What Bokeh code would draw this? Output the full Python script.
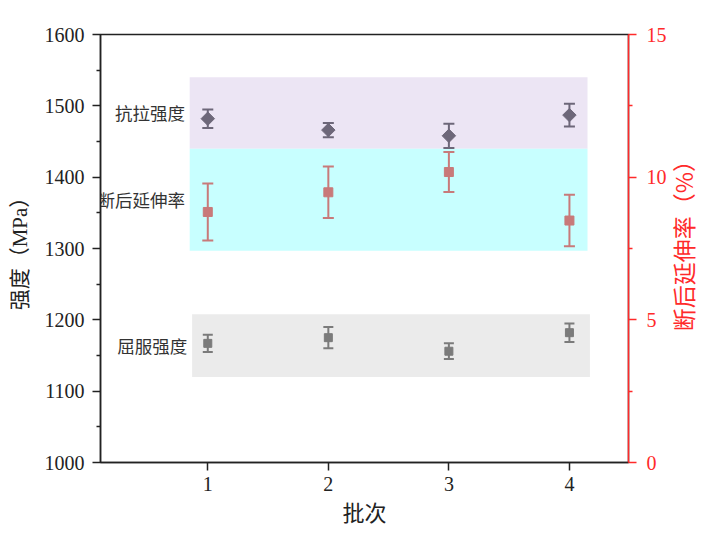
import math
from bokeh.plotting import figure
from bokeh.models import (Range1d, LinearAxis, FixedTicker, ColumnDataSource,
                          Whisker, TeeHead)
from bokeh.core.properties import value
from bokeh.embed import file_html
from bokeh.resources import INLINE

# ---------------- data ----------------
batches = [1, 2, 3, 4]
tensile = [1482, 1466, 1458, 1487]
tensile_err = [13, 10, 17, 16]
elongation = [8.78, 9.47, 10.18, 8.48]
elongation_err = [1.0, 0.9, 0.7, 0.9]
yield_strength = [1167, 1175, 1156, 1182]
yield_err = [12, 15, 11, 13]

group_names = ["抗拉强度", "断后延伸率", "屈服强度"]
x_ticks = [1, 2, 3, 4]
left_ticks = [1000, 1100, 1200, 1300, 1400, 1500, 1600]
right_ticks = [0, 5, 10, 15]

# background bands (x0, x1, y0, y1) in left-axis units
bands = [
    (0.85, 4.15, 1440, 1540, "#ece5f4"),
    (0.85, 4.15, 1297, 1440, "#c8ffff"),
    (0.87, 4.17, 1120, 1208, "#ebebeb"),
]

SERIF = "'Liberation Serif', 'Noto Sans CJK SC'"
CJK = "'Noto Sans CJK SC'"
DARK = "#222222"
RED = "#ff2a2a"

p = figure(frame_width=528, frame_height=428,
           x_range=Range1d(0.11, 4.49), y_range=Range1d(1000, 1600),
           output_backend="svg", toolbar_location=None,
           min_border_left=100, min_border_right=92,
           min_border_top=34, min_border_bottom=72)
p.extra_y_ranges = {"right": Range1d(0, 15)}
p.grid.visible = False
p.outline_line_color = DARK
p.outline_line_width = 1.5
p.background_fill_color = "white"
p.border_fill_color = "white"

# bands
for (x0, x1, y0, y1, c) in bands:
    p.quad(left=[x0], right=[x1], bottom=[y0], top=[y1],
           fill_color=c, line_color=None, level="image")

# labels for bands
label_x = [b[0] - 0.04 for b in bands]
label_y = [(b[2] + b[3]) / 2 for b in bands]
p.text(x=label_x, y=label_y, text=group_names, text_align="right",
       text_baseline="middle", text_font=value(CJK),
       text_font_size="17.5px", text_color="#333333")

# tensile
src_t = ColumnDataSource(dict(x=batches, y=tensile,
                              lo=[v - e for v, e in zip(tensile, tensile_err)],
                              hi=[v + e for v, e in zip(tensile, tensile_err)]))
c_t = "#6d6779"
p.add_layout(Whisker(source=src_t, base="x", lower="lo", upper="hi",
                     line_color=c_t, line_width=2,
                     upper_head=TeeHead(size=11, line_color=c_t, line_width=2),
                     lower_head=TeeHead(size=11, line_color=c_t, line_width=2)))
p.scatter("x", "y", source=src_t, marker="square", angle=math.pi / 4,
          size=9.5, fill_color=c_t, line_color=c_t)

# yield
src_y = ColumnDataSource(dict(x=batches, y=yield_strength,
                              lo=[v - e for v, e in zip(yield_strength, yield_err)],
                              hi=[v + e for v, e in zip(yield_strength, yield_err)]))
c_y = "#7b7b7b"
p.add_layout(Whisker(source=src_y, base="x", lower="lo", upper="hi",
                     line_color=c_y, line_width=2,
                     upper_head=TeeHead(size=10, line_color=c_y, line_width=2),
                     lower_head=TeeHead(size=10, line_color=c_y, line_width=2)))
p.scatter("x", "y", source=src_y, marker="square", size=8,
          fill_color=c_y, line_color=c_y)

# elongation (right axis)
src_e = ColumnDataSource(dict(x=batches, y=elongation,
                              lo=[v - e for v, e in zip(elongation, elongation_err)],
                              hi=[v + e for v, e in zip(elongation, elongation_err)]))
c_e = "#c87a7a"
p.add_layout(Whisker(source=src_e, base="x", lower="lo", upper="hi",
                     y_range_name="right",
                     line_color=c_e, line_width=2,
                     upper_head=TeeHead(size=11, line_color=c_e, line_width=2),
                     lower_head=TeeHead(size=11, line_color=c_e, line_width=2)))
p.scatter("x", "y", source=src_e, y_range_name="right", marker="square",
          size=9, fill_color=c_e, line_color=c_e)

# axes styling
def style_axis(ax, color):
    ax.axis_line_color = color
    ax.axis_line_width = 1.5
    ax.major_tick_line_color = color
    ax.major_tick_line_width = 1.5
    ax.minor_tick_line_color = color
    ax.minor_tick_line_width = 1.5
    ax.major_tick_in = 0
    ax.major_tick_out = 8
    ax.minor_tick_in = 0
    ax.minor_tick_out = 4
    ax.major_label_text_font = SERIF
    ax.major_label_text_font_size = "20px"
    ax.major_label_text_color = color
    ax.axis_label_text_font = SERIF
    ax.axis_label_text_font_size = "21px"
    ax.axis_label_text_font_style = "normal"
    ax.axis_label_text_color = color

xa = p.xaxis[0]
style_axis(xa, DARK)
xa.ticker = FixedTicker(ticks=x_ticks, minor_ticks=[])
xa.axis_label = "批次"
xa.axis_label_text_font_size = "22px"
xa.major_label_standoff = 6
xa.axis_label_standoff = 7

ya = p.yaxis[0]
style_axis(ya, DARK)
ya.ticker = FixedTicker(ticks=left_ticks,
                        minor_ticks=[t + 50 for t in left_ticks[:-1]])
ya.axis_label = "强度（MPa）"
ya.major_label_standoff = 8
ya.axis_label_standoff = 10

ra = LinearAxis(y_range_name="right")
style_axis(ra, RED)
ra.ticker = FixedTicker(ticks=right_ticks,
                        minor_ticks=[t + 2.5 for t in right_ticks[:-1]])
ra.major_label_standoff = 10
p.add_layout(ra, "right")

# right-axis title (reads bottom to top, like the left title);
# the rotated text starts at its anchor, so anchor it below the middle
RIGHT_TITLE_ANCHOR = 4.6
rt = LinearAxis(y_range_name="right")
rt.ticker = FixedTicker(ticks=[RIGHT_TITLE_ANCHOR], minor_ticks=[])
rt.major_label_overrides = {RIGHT_TITLE_ANCHOR: "断后延伸率（%）"}
rt.major_label_orientation = math.pi / 2
rt.major_label_text_font = CJK
rt.major_label_text_font_size = "23px"
rt.major_label_text_color = RED
rt.axis_line_color = None
rt.major_tick_line_color = None
rt.minor_tick_line_color = None
rt.major_tick_out = 0
rt.major_tick_in = 0
rt.major_label_standoff = 14
p.add_layout(rt, "right")

open("out.html", "w").write(file_html(p, INLINE))
